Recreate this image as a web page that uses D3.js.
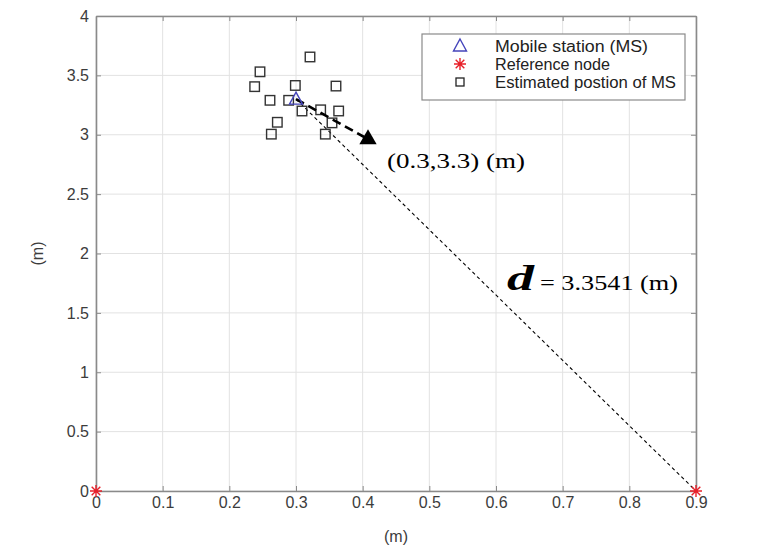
<!DOCTYPE html>
<html>
<head>
<meta charset="utf-8">
<script src="https://cdn.jsdelivr.net/npm/d3@7"></script>
<style>
  html, body { margin: 0; padding: 0; background: #fff; }
  svg { display: block; }
</style>
</head>
<body>
<svg id="chart" width="759" height="551"></svg>
<script>
// Mobile station true position (m)
const mobileStation = [{ x: 0.3, y: 3.3 }];
// Reference nodes (m)
const referenceNodes = [{ x: 0, y: 0 }, { x: 0.9, y: 0 }];
// Estimated positions of the mobile station (m)
const estX = [0.321, 0.246, 0.238, 0.299, 0.360, 0.261, 0.289, 0.309, 0.337, 0.364, 0.272, 0.354, 0.263, 0.344];
const estY = [3.655, 3.530, 3.405, 3.415, 3.410, 3.290, 3.290, 3.200, 3.210, 3.200, 3.105, 3.100, 3.005, 3.005];
// Pointer from the station to its coordinate label
const pointerEnd = { x: 0.408, y: 2.963 };
// Ticks
const xTicks = [0, 0.1, 0.2, 0.3, 0.4, 0.5, 0.6, 0.7, 0.8, 0.9];
const yTicks = [0, 0.5, 1, 1.5, 2, 2.5, 3, 3.5, 4];
const xTickLabels = ["0", "0.1", "0.2", "0.3", "0.4", "0.5", "0.6", "0.7", "0.8", "0.9"];
const yTickLabels = ["0", "0.5", "1", "1.5", "2", "2.5", "3", "3.5", "4"];
const legendLabels = ["Mobile station (MS)", "Reference node", "Estimated postion of MS"];
const distance = 3.3541;

const svg = d3.select("#chart");
const m = { left: 96, right: 696, top: 16, bottom: 491 };
const x = d3.scaleLinear().domain([0, 0.9]).range([m.left, m.right]);
const y = d3.scaleLinear().domain([0, 4]).range([m.bottom, m.top]);

const axisColor = "#8a8a8a";
const textColor = "#3c3c3c";
const sansFont = "'Liberation Sans', Arial, sans-serif";
const serifFont = "'Liberation Serif', 'Times New Roman', serif";

// Grid
const grid = svg.append("g");
grid.selectAll("line.gx").data(xTicks).join("line")
  .attr("x1", d => x(d)).attr("x2", d => x(d))
  .attr("y1", m.top).attr("y2", m.bottom)
  .attr("stroke", "#e2e2e2").attr("stroke-width", 1);
grid.selectAll("line.gy").data(yTicks).join("line")
  .attr("y1", d => y(d)).attr("y2", d => y(d))
  .attr("x1", m.left).attr("x2", m.right)
  .attr("stroke", "#e2e2e2").attr("stroke-width", 1);

// Axes with inward ticks on all four sides
function styleAxis(g) {
  g.select(".domain").attr("stroke", axisColor).attr("stroke-width", 1.6);
  g.selectAll(".tick line").attr("stroke", axisColor).attr("stroke-width", 1);
  g.selectAll(".tick text").attr("fill", textColor)
    .style("font-family", sansFont).style("font-size", "16px");
}
const xAxis = svg.append("g").attr("transform", `translate(0,${m.bottom})`)
  .call(d3.axisBottom(x).tickValues(xTicks).tickFormat((d, i) => xTickLabels[i])
    .tickSizeInner(-5).tickSizeOuter(0).tickPadding(6));
styleAxis(xAxis);
const yAxis = svg.append("g").attr("transform", `translate(${m.left},0)`)
  .call(d3.axisLeft(y).tickValues(yTicks).tickFormat((d, i) => yTickLabels[i])
    .tickSizeInner(-5).tickSizeOuter(0).tickPadding(7));
styleAxis(yAxis);
const xTop = svg.append("g").attr("transform", `translate(0,${m.top})`)
  .call(d3.axisTop(x).tickValues(xTicks).tickFormat("").tickSizeInner(-5).tickSizeOuter(0));
styleAxis(xTop);
const yRight = svg.append("g").attr("transform", `translate(${m.right},0)`)
  .call(d3.axisRight(y).tickValues(yTicks).tickFormat("").tickSizeInner(-5).tickSizeOuter(0));
styleAxis(yRight);

// Axis titles
svg.append("text").attr("x", (m.left + m.right) / 2).attr("y", 542)
  .attr("text-anchor", "middle").attr("fill", textColor)
  .style("font-family", sansFont).style("font-size", "16px").text("(m)");
svg.append("text")
  .attr("transform", `translate(43,${(m.top + m.bottom) / 2}) rotate(-90)`)
  .attr("text-anchor", "middle").attr("fill", textColor)
  .style("font-family", sansFont).style("font-size", "16px").text("(m)");

// Distance line from the station to the far reference node
svg.append("line")
  .attr("x1", x(mobileStation[0].x)).attr("y1", y(mobileStation[0].y))
  .attr("x2", x(referenceNodes[1].x)).attr("y2", y(referenceNodes[1].y))
  .attr("stroke", "#000").attr("stroke-width", 1.1).attr("stroke-dasharray", "3.5,3");

// Estimated positions
const est = estX.map((v, i) => ({ x: v, y: estY[i] }));
const sq = 9.5;
svg.append("g").selectAll("rect").data(est).join("rect")
  .attr("x", d => x(d.x) - sq / 2).attr("y", d => y(d.y) - sq / 2)
  .attr("width", sq).attr("height", sq)
  .attr("fill", "none").attr("stroke", "#333").attr("stroke-width", 1.4);

// Pointer to the coordinate label
svg.append("line")
  .attr("x1", x(mobileStation[0].x)).attr("y1", y(mobileStation[0].y))
  .attr("x2", x(pointerEnd.x)).attr("y2", y(pointerEnd.y))
  .attr("stroke", "#000").attr("stroke-width", 2.6).attr("stroke-dasharray", "9,5");
svg.append("path")
  .attr("d", d3.symbol(d3.symbolTriangle, 130)())
  .attr("transform", `translate(${x(pointerEnd.x)},${y(pointerEnd.y)})`)
  .attr("fill", "#000");

// Marker shapes
function triangleMarker(g, cx, cy) {
  g.append("path")
    .attr("d", `M${cx},${cy - 7} L${cx + 6.5},${cy + 5} L${cx - 6.5},${cy + 5} Z`)
    .attr("fill", "none").attr("stroke", "#4444bb").attr("stroke-width", 1.4);
}
function starMarker(g, cx, cy) {
  const r = 6;
  const p = `M${cx - r},${cy} L${cx + r},${cy} M${cx},${cy - r} L${cx},${cy + r}` +
    `M${cx - r * 0.72},${cy - r * 0.72} L${cx + r * 0.72},${cy + r * 0.72}` +
    `M${cx - r * 0.72},${cy + r * 0.72} L${cx + r * 0.72},${cy - r * 0.72}`;
  g.append("path").attr("d", p).attr("stroke", "#e8202a").attr("stroke-width", 1.4).attr("fill", "none");
}

const marks = svg.append("g");
mobileStation.forEach(d => triangleMarker(marks, x(d.x), y(d.y)));
referenceNodes.forEach(d => starMarker(marks, x(d.x), y(d.y)));

// Annotations
svg.append("text").attr("x", 387).attr("y", 168)
  .attr("fill", "#000").style("font-family", serifFont).style("font-size", "22px")
  .attr("textLength", 138).attr("lengthAdjust", "spacingAndGlyphs")
  .text(`(${mobileStation[0].x},${mobileStation[0].y}) (m)`);
const dText = svg.append("text").attr("y", 290)
  .attr("fill", "#000").style("font-family", serifFont);
dText.append("tspan").attr("x", 507).style("font-size", "36px").style("font-style", "italic")
  .style("font-weight", "bold").attr("textLength", 27).attr("lengthAdjust", "spacingAndGlyphs")
  .text("d");
dText.append("tspan").attr("x", 540).style("font-size", "22px")
  .attr("textLength", 138).attr("lengthAdjust", "spacingAndGlyphs")
  .text(`= ${distance} (m)`);

// Legend
const lg = svg.append("g");
lg.append("rect").attr("x", 422).attr("y", 34).attr("width", 263).attr("height", 66)
  .attr("fill", "#fff").attr("stroke", axisColor).attr("stroke-width", 1.2);
const rowY = [46, 64, 82];
triangleMarker(lg, 460, rowY[0]);
starMarker(lg, 460, rowY[1]);
lg.append("rect").attr("x", 460 - 4).attr("y", rowY[2] - 4).attr("width", 8).attr("height", 8)
  .attr("fill", "none").attr("stroke", "#222").attr("stroke-width", 1.3);
lg.selectAll("text").data(legendLabels).join("text")
  .attr("x", 495).attr("y", (d, i) => rowY[i] + 6)
  .attr("fill", "#222").style("font-family", sansFont).style("font-size", "16px")
  .attr("textLength", (d, i) => [153, 115, 181][i]).attr("lengthAdjust", "spacingAndGlyphs")
  .text(d => d);
</script>
</body>
</html>
